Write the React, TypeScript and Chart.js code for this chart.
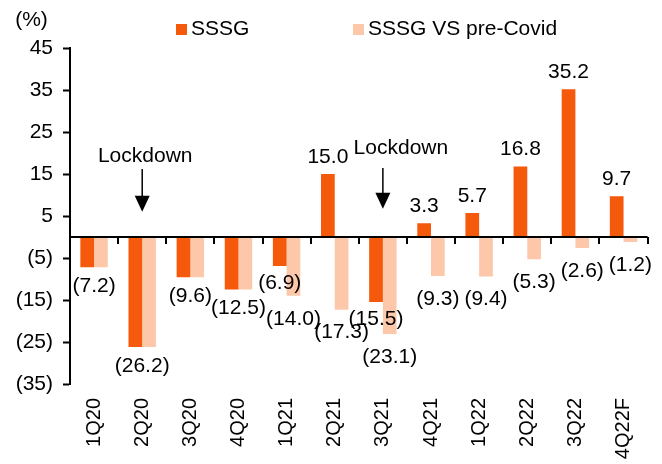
import { useEffect, useRef } from "react";
import { Chart, registerables } from "chart.js";

Chart.register(...registerables);

const categories = ["1Q20", "2Q20", "3Q20", "4Q20", "1Q21", "2Q21", "3Q21", "4Q21", "1Q22", "2Q22", "3Q22", "4Q22F"];
const sssg = [-7.2, -26.2, -9.6, -12.5, -6.9, 15.0, -15.5, 3.3, 5.7, 16.8, 35.2, 9.7];
const sssgVsPreCovid = [-7.2, -26.2, -9.6, -12.5, -14.0, -17.3, -23.1, -9.3, -9.4, -5.3, -2.6, -1.2];
const yTicks = [-35, -25, -15, -5, 5, 15, 25, 35, 45];
const seriesNames = ["SSSG", "SSSG VS pre-Covid"];
const lockdownCategories = ["2Q20", "3Q21"];
const lockdownText = "Lockdown";
const unitLabel = "(%)";

const FONT = '"Liberation Sans", Arial, sans-serif';
const ORANGE = "#F5590C";
const PEACH = "#FDC8AA";

// annotation layout (values on the y scale)
const lockdownLayout = [
  { textValue: 19.3, fromValue: 16.2, toValue: 6.0, dx: 3 },
  { textValue: 21.2, fromValue: 16.4, toValue: 6.7, dx: 18 },
];

const fmtData = (v: number) => (v < 0 ? `(${Math.abs(v).toFixed(1)})` : v.toFixed(1));
const fmtAxis = (v: number) => (v < 0 ? `(${Math.abs(v)})` : `${v}`);

const overlay = {
  id: "overlay",
  afterDatasetsDraw(chart: any) {
    const { ctx, chartArea, scales } = chart;
    const x = scales.x;
    const y = scales.y;
    const y0 = y.getPixelForValue(0);
    ctx.save();
    // zero axis line
    ctx.strokeStyle = "#000";
    ctx.lineWidth = 2;
    ctx.beginPath();
    ctx.moveTo(chartArea.left, y0);
    ctx.lineTo(chartArea.right, y0);
    ctx.stroke();
    // tick marks at category boundaries
    ctx.lineWidth = 2;
    for (let i = 1; i <= categories.length; i++) {
      const px = Math.round(x.getPixelForValue(i - 0.5));
      ctx.beginPath();
      ctx.moveTo(px, y0);
      ctx.lineTo(px, y0 + 7);
      ctx.stroke();
    }

    // data labels
    ctx.font = `21px ${FONT}`;
    ctx.fillStyle = "#000";
    ctx.textAlign = "center";
    ctx.textBaseline = "middle";
    const m0 = chart.getDatasetMeta(0);
    const m1 = chart.getDatasetMeta(1);
    categories.forEach((_c, i) => {
      const a = sssg[i];
      const b = sssgVsPreCovid[i];
      if (a === b) {
        ctx.fillText(fmtData(a), x.getPixelForValue(i), m0.data[i].y + 19);
        return;
      }
      const items: [any, number, number][] = [
        [m0, a, 17],
        [m1, b, 23],
      ];
      items.forEach(([m, v, off]) => {
        const el = m.data[i];
        const yy = v >= 0 ? el.y - 17 : el.y + off;
        ctx.fillText(fmtData(v), el.x, yy);
      });
    });

    // lockdown annotations
    lockdownCategories.forEach((cat, k) => {
      const L = lockdownLayout[k];
      const cx = x.getPixelForValue(categories.indexOf(cat));
      ctx.fillStyle = "#000";
      ctx.fillText(lockdownText, cx + L.dx, y.getPixelForValue(L.textValue));
      const yA = y.getPixelForValue(L.fromValue);
      const yB = y.getPixelForValue(L.toValue);
      ctx.lineWidth = 1.5;
      ctx.beginPath();
      ctx.moveTo(cx, yA);
      ctx.lineTo(cx, yB - 12);
      ctx.stroke();
      ctx.beginPath();
      ctx.moveTo(cx - 7.5, yB - 16);
      ctx.lineTo(cx + 7.5, yB - 16);
      ctx.lineTo(cx, yB);
      ctx.closePath();
      ctx.fill();
    });
    ctx.restore();
  },
  afterDraw(chart: any) {
    const { ctx } = chart;
    ctx.save();
    ctx.font = `21px ${FONT}`;
    ctx.fillStyle = "#000";
    ctx.textBaseline = "middle";
    ctx.textAlign = "center";
    ctx.fillText(unitLabel, 31.5, 20);
    // legend
    ctx.textAlign = "left";
    const legendX = [176, 353];
    chart.data.datasets.forEach((ds: any, k: number) => {
      ctx.fillStyle = ds.backgroundColor;
      ctx.fillRect(legendX[k], 24, 11, 11);
      ctx.fillStyle = "#000";
      ctx.fillText(ds.label, legendX[k] + 15, 29);
    });
    ctx.restore();
  },
};

export default function App() {
  const ref = useRef<HTMLCanvasElement | null>(null);
  useEffect(() => {
    document.body.style.margin = "0";
    if (!ref.current) return;
    const chart = new Chart(ref.current, {
      type: "bar",
      data: {
        labels: categories,
        datasets: [
          { label: seriesNames[0], data: sssg, backgroundColor: ORANGE, borderWidth: 0 },
          { label: seriesNames[1], data: sssgVsPreCovid, backgroundColor: PEACH, borderWidth: 0 },
        ],
      },
      options: {
        responsive: false,
        animation: false,
        maintainAspectRatio: false,
        layout: { padding: { left: 0, right: 11, top: 48, bottom: 0 } },
        datasets: { bar: { categoryPercentage: 0.57, barPercentage: 1 } },
        plugins: { legend: { display: false }, tooltip: { enabled: false } },
        scales: {
          x: {
            grid: { display: false, drawTicks: false },
            border: { display: false },
            ticks: {
              minRotation: 90,
              maxRotation: 90,
              padding: 14,
              color: "#000",
              font: { family: FONT, size: 20 },
            },
            afterFit: (s: any) => {
              s.height = 80;
            },
          },
          y: {
            min: -35,
            max: 45,
            afterBuildTicks: (s: any) => {
              s.ticks = yTicks.map((v) => ({ value: v }));
            },
            grid: {
              drawOnChartArea: false,
              drawTicks: true,
              tickLength: 7,
              tickWidth: 2,
              tickColor: "#000",
            },
            border: { display: true, color: "#000", width: 2 },
            ticks: {
              padding: 10,
              color: "#000",
              font: { family: FONT, size: 21 },
              callback: (v: any) => fmtAxis(Number(v)),
            },
            afterFit: (s: any) => {
              s.width = 70;
            },
          },
        },
      },
      plugins: [overlay],
    });
    return () => chart.destroy();
  }, []);
  return <canvas ref={ref} width={662} height={464} style={{ display: "block" }} />;
}
